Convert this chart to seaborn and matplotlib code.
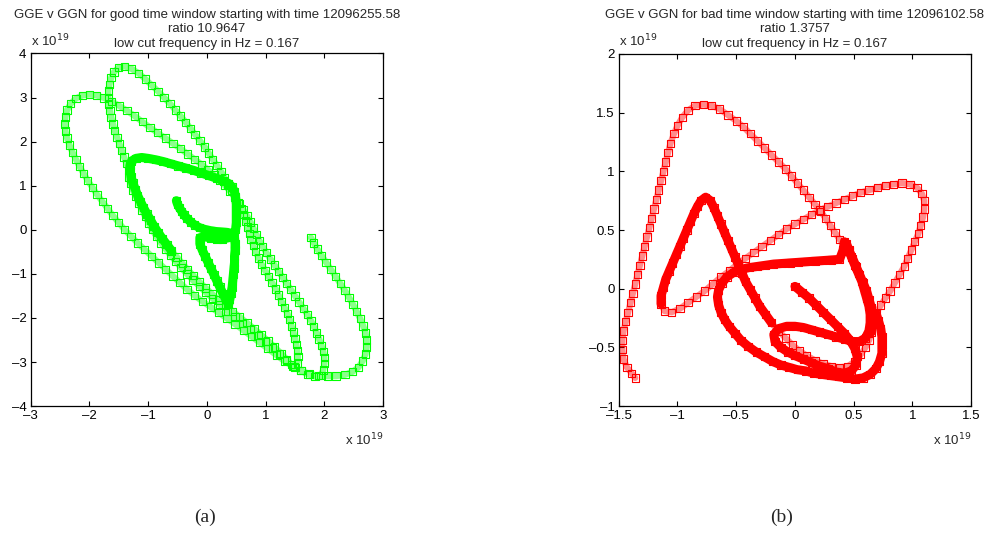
import matplotlib
matplotlib.use("Agg")
import matplotlib.pyplot as plt
import seaborn as sns
import pandas as pd

# GGE / GGN trajectories, in units of 1e19 (ordered along time)
good_gge = [
    -0.52, -0.50, -0.47, -0.43, -0.39, -0.34, -0.28, -0.21, -0.13, -0.04, 0.06, 0.16, 0.26, 0.35, 0.43,
    0.47, 0.48, 0.48, 0.47, 0.47, 0.46, 0.45, 0.44, 0.43, 0.41, 0.39, 0.37,
    0.32, 0.27, 0.22, 0.17, 0.12, 0.07, 0.02, -0.03, -0.08, -0.12, -0.12,
    -0.03, 0.07, 0.17, 0.27, 0.37, 0.45,
    0.49, 0.50, 0.50, 0.50, 0.50, 0.49, 0.47, 0.43, 0.37, 0.28,
    0.16, 0.03, -0.10, -0.23, -0.36, -0.49, -0.62, -0.75, -0.88, -1.00, -1.11, -1.21, -1.28, -1.31, -1.31,
    -1.29, -1.26, -1.22, -1.18, -1.13, -1.08, -1.02, -0.96, -0.90, -0.83, -0.76, -0.68, -0.60, -0.51, -0.42,
    -0.33, -0.23, -0.13, -0.02, 0.09, 0.20, 0.32, 0.44, 0.56, 0.68, 0.80, 0.92, 1.04, 1.15, 1.26, 1.36,
    1.44, 1.50,
    1.54, 1.55, 1.54, 1.52, 1.50, 1.47, 1.44, 1.41, 1.37, 1.32, 1.27, 1.22, 1.17, 1.11, 1.05, 0.99, 0.93,
    0.88, 0.83, 0.79, 0.75, 0.72, 0.69, 0.66, 0.62, 0.58, 0.53, 0.48, 0.42, 0.36, 0.30, 0.24, 0.17, 0.10,
    0.03, -0.04, -0.12, -0.20, -0.28, -0.36, -0.45, -0.54, -0.63, -0.73, -0.83, -0.94, -1.05, -1.16, -1.28,
    -1.40, -1.50, -1.58, -1.63, -1.66, -1.68, -1.68, -1.67, -1.65, -1.63, -1.60, -1.57, -1.53, -1.49, -1.45,
    -1.41, -1.37, -1.33,
    -1.34, -1.30, -1.26, -1.21, -1.16, -1.11, -1.05, -0.99, -0.93, -0.86, -0.78, -0.70, -0.62, -0.53, -0.44,
    -0.34, -0.24, -0.13, -0.02, 0.10, 0.22, 0.35, 0.48, 0.61, 0.74, 0.87, 1.00, 1.12, 1.24, 1.36, 1.48,
    1.60, 1.72, 1.84,
    1.94, 1.98, 2.00, 2.00, 1.98, 1.95, 1.91, 1.87, 1.82, 1.77, 1.71, 1.64, 1.57, 1.50, 1.43, 1.36, 1.29,
    1.22, 1.15, 1.08, 1.01, 0.95, 0.89, 0.84, 0.79, 0.74, 0.68, 0.62, 0.55, 0.47, 0.39, 0.31, 0.22, 0.12,
    0.02, -0.09, -0.21, -0.33, -0.45, -0.58, -0.71, -0.84, -0.97, -1.10, -1.23, -1.36, -1.49, -1.62, -1.75,
    -1.88, -2.00, -2.12, -2.23, -2.32, -2.38, -2.41, -2.42, -2.41, -2.38, -2.34, -2.29, -2.23, -2.17, -2.10,
    -2.03, -1.95, -1.87, -1.78, -1.69, -1.60, -1.50, -1.40, -1.29, -1.18, -1.06, -0.94, -0.82, -0.70, -0.58,
    -0.46, -0.34, -0.21, -0.08, 0.06, 0.20, 0.34, 0.48, 0.62, 0.76, 0.90, 1.04, 1.18, 1.32, 1.46, 1.60,
    1.75, 1.90, 2.05, 2.20, 2.35, 2.48, 2.58, 2.65, 2.70, 2.72, 2.72, 2.70, 2.66, 2.61, 2.55, 2.49, 2.42,
    2.35, 2.27, 2.19, 2.11, 2.03, 1.95, 1.88, 1.82, 1.77,
]
good_ggn = [
    0.66, 0.58, 0.50, 0.42, 0.34, 0.26, 0.18, 0.11, 0.05, 0.01, -0.02, -0.04, -0.05, -0.06, -0.09,
    -0.18, -0.32, -0.46, -0.60, -0.74, -0.88, -1.02, -1.16, -1.30, -1.44, -1.58, -1.70,
    -1.58, -1.44, -1.30, -1.16, -1.02, -0.88, -0.74, -0.60, -0.46, -0.32, -0.18,
    -0.16, -0.19, -0.21, -0.21, -0.18, -0.10,
    0.02, 0.16, 0.30, 0.44, 0.58, 0.72, 0.86, 0.97, 1.05, 1.11,
    1.17, 1.23, 1.29, 1.35, 1.40, 1.45, 1.50, 1.55, 1.59, 1.62, 1.64, 1.62, 1.56, 1.46, 1.34,
    1.20, 1.06, 0.92, 0.78, 0.64, 0.50, 0.36, 0.22, 0.08, -0.06, -0.20, -0.34, -0.48, -0.62, -0.76,
    -0.90, -1.04, -1.18, -1.32, -1.46, -1.59, -1.72, -1.85, -1.98, -2.11, -2.24, -2.38, -2.52, -2.66, -2.80,
    -2.94, -3.06, -3.12,
    -3.02, -2.88, -2.74, -2.60, -2.46, -2.32, -2.18, -2.04, -1.90, -1.76, -1.62, -1.48, -1.34, -1.20, -1.06,
    -0.92, -0.78, -0.64, -0.50, -0.36, -0.22, -0.08, 0.06, 0.20, 0.34, 0.48, 0.62, 0.76, 0.90, 1.04, 1.18,
    1.32, 1.46, 1.60, 1.74, 1.88, 2.02, 2.16, 2.30, 2.44, 2.58, 2.72, 2.86, 3.00, 3.14, 3.28, 3.42, 3.55,
    3.65, 3.71, 3.68, 3.58, 3.45, 3.30, 3.15, 3.00, 2.85, 2.70, 2.55, 2.40, 2.25, 2.10, 1.95, 1.80, 1.65,
    1.50, 1.35,
    1.20, 1.05, 0.90, 0.75, 0.60, 0.45, 0.30, 0.15, 0.00, -0.15, -0.30, -0.44, -0.58, -0.72, -0.86,
    -1.00, -1.14, -1.28, -1.42, -1.56, -1.70, -1.84, -1.98, -2.12, -2.26, -2.40, -2.54, -2.68, -2.82, -2.96,
    -3.10, -3.20, -3.28, -3.33,
    -3.30, -3.18, -3.04, -2.90, -2.76, -2.62, -2.48, -2.34, -2.20, -2.06, -1.92, -1.78, -1.64, -1.50, -1.36,
    -1.22, -1.08, -0.94, -0.80, -0.66, -0.52, -0.38, -0.24, -0.10, 0.04, 0.18, 0.32, 0.46, 0.60, 0.74,
    0.88, 1.00, 1.12, 1.24, 1.36, 1.48, 1.60, 1.72, 1.84, 1.96, 2.08, 2.20, 2.32, 2.45, 2.58, 2.70, 2.81,
    2.91, 2.99, 3.05, 3.07, 3.05, 2.98, 2.86, 2.72, 2.56, 2.40, 2.24, 2.08, 1.92, 1.76, 1.60, 1.44, 1.28,
    1.12, 0.96, 0.80, 0.64, 0.48, 0.32, 0.16, 0.00, -0.15, -0.30, -0.45, -0.60, -0.75, -0.90, -1.05,
    -1.20, -1.35, -1.49, -1.62, -1.75, -1.88, -2.01, -2.14, -2.28, -2.42, -2.56, -2.70, -2.84, -2.98, -3.10,
    -3.20, -3.27, -3.31, -3.32, -3.32, -3.29, -3.22, -3.12, -2.98, -2.82, -2.66, -2.50, -2.34, -2.18, -2.02,
    -1.86, -1.70, -1.54, -1.38, -1.22, -1.06, -0.90, -0.74, -0.58, -0.44, -0.30, -0.18,
]

bad_gge = [
    0.00, 0.06, 0.12, 0.18, 0.24, 0.30, 0.36, 0.42, 0.47,
    0.51, 0.53, 0.52, 0.48, 0.42,
    0.35, 0.28, 0.21, 0.14, 0.07, 0.00, -0.06, -0.12, -0.17, -0.18,
    -0.14, -0.07, 0.00, 0.07, 0.14, 0.21, 0.28, 0.35, 0.42, 0.49, 0.55, 0.60,
    0.63, 0.64, 0.64, 0.63, 0.61, 0.59, 0.57, 0.54, 0.51, 0.48, 0.46, 0.44, 0.42, 0.41,
    0.38, 0.31, 0.24, 0.17, 0.10, 0.03, -0.04, -0.11, -0.18, -0.25, -0.32, -0.39, -0.46, -0.52, -0.58,
    -0.62, -0.65, -0.66, -0.65, -0.63,
    -0.60, -0.56, -0.51, -0.46, -0.40, -0.33, -0.26, -0.19, -0.12, -0.05, 0.02, 0.09, 0.16, 0.23, 0.30,
    0.37, 0.44, 0.51, 0.58, 0.64, 0.69, 0.72, 0.74, 0.74, 0.74, 0.73, 0.71, 0.69,
    0.73, 0.77, 0.81, 0.85, 0.89, 0.93, 0.96, 0.99, 1.02, 1.05, 1.07, 1.09, 1.10, 1.10, 1.08, 1.04, 0.98,
    0.91, 0.84, 0.77, 0.70, 0.63, 0.56, 0.49, 0.42, 0.35, 0.28, 0.21, 0.14, 0.07, 0.00, -0.07, -0.14,
    -0.21, -0.28, -0.35, -0.42, -0.49, -0.56, -0.63, -0.70, -0.77, -0.84, -0.91, -0.98, -1.05, -1.11,
    -1.14, -1.14, -1.12, -1.10, -1.07, -1.04, -1.01, -0.98, -0.95, -0.92, -0.89, -0.86, -0.83, -0.80,
    -0.76, -0.72, -0.69,
    -0.66, -0.63, -0.60, -0.57, -0.54, -0.51, -0.48, -0.45, -0.42, -0.38, -0.34, -0.30, -0.25, -0.20,
    -0.14, -0.08, -0.02, 0.04, 0.10, 0.17, 0.24, 0.31, 0.38, 0.45, 0.51, 0.56, 0.60, 0.63,
    0.65, 0.66, 0.66, 0.65, 0.63, 0.61, 0.58, 0.55, 0.52, 0.49, 0.46, 0.43,
    0.38, 0.34, 0.30, 0.26, 0.22, 0.17, 0.12, 0.07, 0.02, -0.03, -0.08, -0.14, -0.20, -0.26, -0.32,
    -0.38, -0.44, -0.50, -0.57, -0.64, -0.71, -0.78, -0.85, -0.91, -0.96, -1.00, -1.03, -1.06, -1.08,
    -1.10, -1.12, -1.14, -1.16, -1.18, -1.20, -1.22, -1.24, -1.26, -1.28, -1.30, -1.32, -1.34, -1.36,
    -1.38, -1.40, -1.42, -1.44, -1.46, -1.47, -1.47, -1.46, -1.43, -1.39, -1.36,
]
bad_ggn = [
    0.02, -0.03, -0.08, -0.14, -0.20, -0.26, -0.32, -0.38, -0.44,
    -0.51, -0.58, -0.65, -0.70, -0.72,
    -0.71, -0.68, -0.66, -0.63, -0.60, -0.57, -0.54, -0.50, -0.45, -0.39,
    -0.34, -0.32, -0.32, -0.33, -0.35, -0.37, -0.39, -0.41, -0.43, -0.45, -0.45, -0.42,
    -0.36, -0.29, -0.22, -0.15, -0.08, -0.01, 0.06, 0.13, 0.20, 0.27, 0.33, 0.38, 0.40, 0.33,
    0.25, 0.245, 0.24, 0.235, 0.23, 0.225, 0.22, 0.215, 0.21, 0.20, 0.19, 0.18, 0.165, 0.14, 0.10,
    0.05, -0.01, -0.07, -0.14, -0.20,
    -0.26, -0.32, -0.38, -0.44, -0.49, -0.54, -0.58, -0.62, -0.65, -0.67, -0.69, -0.70, -0.72, -0.73, -0.74,
    -0.75, -0.76, -0.77, -0.76, -0.73, -0.68, -0.62, -0.55, -0.48, -0.41, -0.34, -0.27, -0.21,
    -0.14, -0.08, -0.02, 0.05, 0.12, 0.19, 0.26, 0.33, 0.40, 0.47, 0.54, 0.61, 0.68, 0.75, 0.81, 0.86, 0.89,
    0.90, 0.89, 0.88, 0.86, 0.84, 0.82, 0.79, 0.76, 0.73, 0.70, 0.67, 0.63, 0.59, 0.55, 0.51, 0.46,
    0.41, 0.36, 0.31, 0.26, 0.21, 0.15, 0.10, 0.04, -0.02, -0.07, -0.12, -0.17, -0.20, -0.19,
    -0.13, -0.06, 0.01, 0.08, 0.15, 0.22, 0.29, 0.36, 0.43, 0.50, 0.57, 0.64, 0.70, 0.75,
    0.78, 0.75, 0.69,
    0.62, 0.55, 0.48, 0.41, 0.34, 0.27, 0.20, 0.13, 0.06, -0.01, -0.08, -0.15, -0.22, -0.29,
    -0.36, -0.42, -0.48, -0.53, -0.57, -0.61, -0.64, -0.66, -0.67, -0.66, -0.62, -0.56, -0.50, -0.44,
    -0.37, -0.30, -0.23, -0.16, -0.09, -0.02, 0.05, 0.12, 0.19, 0.26, 0.32, 0.37,
    0.42, 0.48, 0.54, 0.60, 0.66, 0.72, 0.78, 0.84, 0.90, 0.96, 1.02, 1.08, 1.14, 1.20, 1.26,
    1.32, 1.38, 1.43, 1.48, 1.53, 1.56, 1.57, 1.56, 1.52, 1.46, 1.39, 1.32, 1.24, 1.16,
    1.08, 1.00, 0.92, 0.84, 0.76, 0.68, 0.60, 0.52, 0.44, 0.36, 0.28, 0.20, 0.12, 0.04,
    -0.04, -0.12, -0.20, -0.28, -0.36, -0.44, -0.52, -0.60, -0.67, -0.72, -0.76,
]

good_title = ["GGE v GGN for good time window starting with time 12096255.58",
              "ratio 10.9647", "low cut frequency in Hz = 0.167"]
bad_title = ["GGE v GGN for bad time window starting with time 12096102.58",
             "ratio 1.3757", "low cut frequency in Hz = 0.167"]

good_xticks = [-3, -2, -1, 0, 1, 2, 3]
good_yticks = [-4, -3, -2, -1, 0, 1, 2, 3, 4]
bad_xticks = [-1.5, -1, -0.5, 0, 0.5, 1, 1.5]
bad_yticks = [-1, -0.5, 0, 0.5, 1, 1.5, 2]

# stretches of the record where the samples pile up into a solid band
good_slow = [(0, 82)]
bad_slow = [(0, 98), (145, 176), (190, 202)]

sns.set_style("ticks", {"xtick.direction": "in", "ytick.direction": "in"})
plt.rcParams["font.family"] = ["Liberation Sans", "DejaVu Sans"]
plt.rcParams["axes.unicode_minus"] = False

W, H = 990, 540
fig = plt.figure(figsize=(W / 100, H / 100), dpi=100)
ax_a = fig.add_axes([0.031, 0.248, 0.356, 0.653])
ax_b = fig.add_axes([0.625, 0.248, 0.356, 0.652])


def fmt(v):
    return f"{v:g}".replace("-", "\u2013")


def draw(ax, xs, ys, color, slow, title, xticks, yticks):
    df = pd.DataFrame({"GGE": xs, "GGN": ys})
    # faint continuous band along the whole path
    sns.lineplot(data=df, x="GGE", y="GGN", ax=ax, sort=False, estimator=None,
                 color=color, linewidth=4.5, alpha=0.45, legend=False)
    for a, b in slow:
        sns.lineplot(data=df.iloc[a:b], x="GGE", y="GGN", ax=ax, sort=False,
                     estimator=None, color=color, linewidth=6.5,
                     solid_capstyle="round", legend=False)
    sns.scatterplot(data=df, x="GGE", y="GGN", ax=ax, marker="s", s=28,
                    facecolors="none", edgecolor=color, linewidth=0.8, legend=False)
    ax.set_xlim(xticks[0], xticks[-1])
    ax.set_ylim(yticks[0], yticks[-1])
    ax.set_xticks(xticks)
    ax.set_yticks(yticks)
    ax.set_xticklabels([fmt(v) for v in xticks])
    ax.set_yticklabels([fmt(v) for v in yticks])
    ax.set_xlabel("")
    ax.set_ylabel("")
    ax.tick_params(top=True, right=True, length=3.5, width=0.8, labelsize=9.5,
                   colors="black", pad=3)
    for sp in ax.spines.values():
        sp.set_visible(True)
        sp.set_linewidth(0.9)
        sp.set_color("black")
    # three-line heading, centred over the axes
    x0, _, w, _ = ax.get_position().bounds
    cx = x0 + w / 2
    for line, base in zip(title, [18, 32, 47]):
        fig.text(cx, 1 - base / H, line, fontsize=9.5, ha="center", va="baseline")
    ax.text(0.0, 1.012, r"x 10$^{19}$", transform=ax.transAxes, fontsize=9.5,
            ha="left", va="bottom")
    ax.text(1.0, -0.072, r"x 10$^{19}$", transform=ax.transAxes, fontsize=9.5,
            ha="right", va="top")


draw(ax_a, good_gge, good_ggn, "#00ff00", good_slow, good_title, good_xticks, good_yticks)
draw(ax_b, bad_gge, bad_ggn, "#ff0000", bad_slow, bad_title, bad_xticks, bad_yticks)

fig.text(205 / W, 1 - 517 / H, "(a)", family="Liberation Serif", fontsize=14,
         ha="center", va="center")
fig.text(782 / W, 1 - 517 / H, "(b)", family="Liberation Serif", fontsize=14,
         ha="center", va="center")

fig.savefig("out.png", dpi=100)
